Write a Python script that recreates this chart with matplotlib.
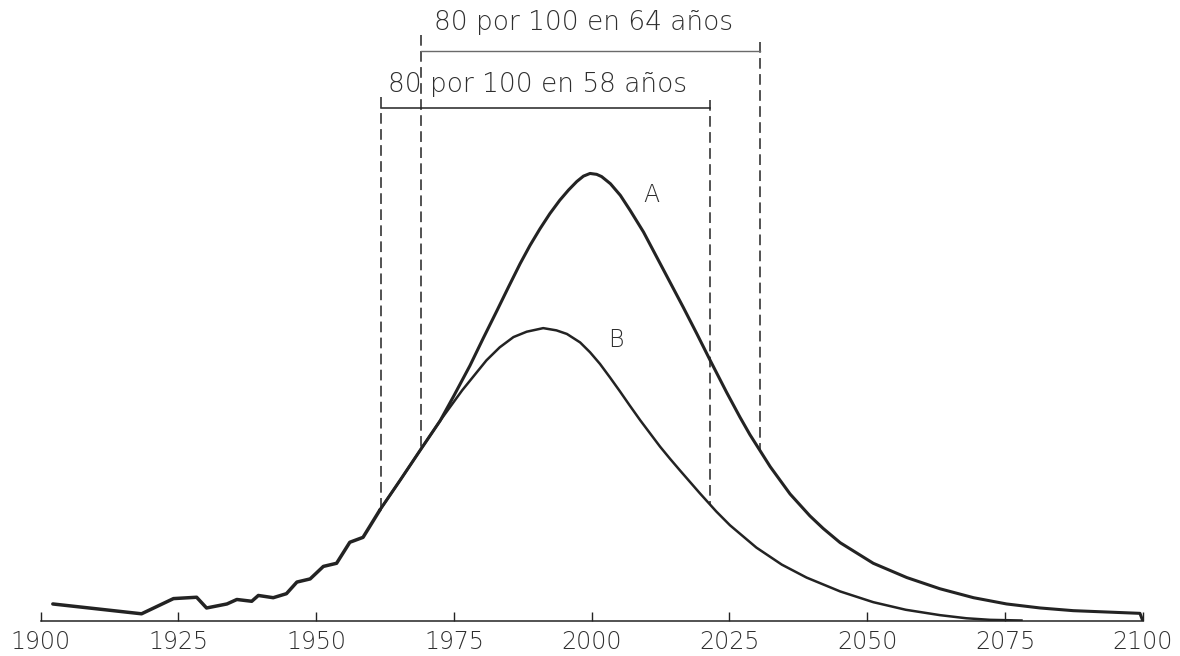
import matplotlib
matplotlib.use("Agg")
import matplotlib.pyplot as plt

# ---------------- data ----------------
hist_years = [1902.2, 1918.3, 1924.1, 1928.3, 1930.1, 1933.8, 1935.6, 1938.3, 1939.5,
              1942.2, 1944.6, 1946.5, 1948.9, 1951.3, 1953.7, 1956.1, 1958.5, 1961.6]
hist_vals = [3.7, 1.5, 4.9, 5.2, 2.8, 3.7, 4.7, 4.3, 5.6,
             5.1, 6.0, 8.6, 9.3, 12.1, 12.8, 17.5, 18.6, 24.8]

A_years = [1961.6, 1965.3, 1969.1, 1972.5, 1975.0, 1977.9, 1980.3, 1982.8, 1984.9,
           1987.0, 1988.8, 1990.6, 1992.4, 1994.2, 1995.8, 1997.3, 1998.5, 1999.7,
           2000.9, 2001.8, 2003.4, 2005.2, 2007.0, 2009.4, 2011.8, 2014.2, 2016.6,
           2019.1, 2021.5, 2024.5, 2026.9, 2028.7, 2032.4, 2036.0, 2039.6, 2042.0,
           2045.1, 2051.1, 2057.2, 2063.2, 2069.3, 2075.3, 2081.4, 2087.4, 2099.5,
           2100.0]
A_vals = [24.8, 31.5, 38.5, 44.7, 50.3, 57.0, 63.1, 69.3, 74.6,
          79.8, 83.9, 87.6, 91.0, 94.0, 96.3, 98.2, 99.4, 100.0,
          99.8, 99.3, 97.7, 95.1, 91.7, 86.9, 81.3, 75.7, 70.1,
          64.1, 58.2, 51.0, 45.5, 41.6, 34.4, 28.3, 23.4, 20.6,
          17.4, 12.8, 9.6, 7.1, 5.1, 3.7, 2.8, 2.2, 1.6,
          0.0]

B_years = [1961.6, 1965.3, 1969.1, 1972.5, 1976.5, 1980.9, 1983.3, 1985.8, 1988.2,
           1991.2, 1993.6, 1995.5, 1997.9, 1999.7, 2001.5, 2003.3, 2005.1, 2006.9,
           2008.8, 2012.4, 2014.2, 2016.0, 2019.6, 2022.6, 2025.1, 2029.9, 2034.5,
           2039.0, 2045.1, 2051.1, 2057.0, 2063.2, 2068.0, 2072.3, 2078.0]
B_vals = [24.8, 31.5, 38.5, 44.7, 51.5, 58.2, 61.1, 63.4, 64.6,
          65.4, 64.9, 64.1, 62.2, 60.0, 57.4, 54.4, 51.3, 48.1,
          44.8, 38.9, 36.2, 33.6, 28.5, 24.4, 21.3, 16.3, 12.5,
          9.6, 6.5, 4.1, 2.4, 1.2, 0.5, 0.15, 0.0]

tick_years = [1900, 1925, 1950, 1975, 2000, 2025, 2050, 2075, 2100]
tick_labels = ["1900", "1925", "1950", "1975", "2000", "2025", "2050", "2075", "2100"]

# annotation markers (years spanned by the 80% periods)
span58 = [1961.8, 2021.4]
span64 = [1969.1, 2030.5]
label58 = "80 por 100 en 58 años"
label64 = "80 por 100 en 64 años"

# ---------------- figure ----------------
W, H = 1180, 656
fig = plt.figure(figsize=(W / 100, H / 100), dpi=100)
fig.patch.set_facecolor("white")
ax = fig.add_axes([40.7 / W, 35.5 / H, 1102 / W, 620.5 / H])
ax.set_xlim(1900, 2100)
ax.set_ylim(0, 138.8)

ink = "#232323"
fam = ["DejaVu Sans"]

ax.plot(hist_years, hist_vals, color=ink, lw=2.5, solid_joinstyle="round",
        solid_capstyle="round", zorder=3)
ax.plot(A_years, A_vals, color=ink, lw=2.2, solid_joinstyle="round", zorder=3)
ax.plot(B_years, B_vals, color=ink, lw=1.8, solid_joinstyle="round", zorder=3)

dash = dict(color=ink, lw=1.1, linestyle=(0, (7, 3.5)), zorder=2)
# verticals for 58-year span
ax.plot([span58[0], span58[0]], [117.0, 24.8], **dash)
ax.plot([span58[1], span58[1]], [116.5, 26.0], **dash)
# verticals for 64-year span
ax.plot([span64[0], span64[0]], [130.9, 38.5], **dash)
ax.plot([span64[1], span64[1]], [129.5, 38.0], **dash)

# horizontal span bars
ax.plot(span58, [114.6, 114.6], color=ink, lw=1.1, zorder=2)
ax.plot(span64, [127.5, 127.5], color="#6a6a6a", lw=1.0, zorder=2)

txtc = "#2e2e2e"
ax.text(1971.3, 132.1, label64, ha="left", va="baseline", fontsize=19,
        family=fam, fontweight="light", color=txtc)
ax.text(1963.0, 118.2, label58, ha="left", va="baseline", fontsize=19,
        family=fam, fontweight="light", color=txtc)
ax.text(2010.9, 93.6, "A", ha="center", va="baseline", fontsize=17,
        family=fam, fontweight="light", color=txtc)
ax.text(2004.4, 61.1, "B", ha="center", va="baseline", fontsize=17,
        family=fam, fontweight="light", color=txtc)

# axis styling
for s in ["left", "right", "top"]:
    ax.spines[s].set_visible(False)
ax.spines["bottom"].set_color(ink)
ax.spines["bottom"].set_linewidth(1.1)
ax.set_yticks([])
ax.set_xticks(tick_years)
ax.set_xticklabels(tick_labels, family=fam, fontweight="light")
ax.tick_params(axis="x", direction="in", length=6.5, width=1.0, colors=ink,
               labelsize=17, pad=6.5, labelcolor=txtc)
ax.patch.set_alpha(0)

fig.savefig("out.png", dpi=100, facecolor="white")
